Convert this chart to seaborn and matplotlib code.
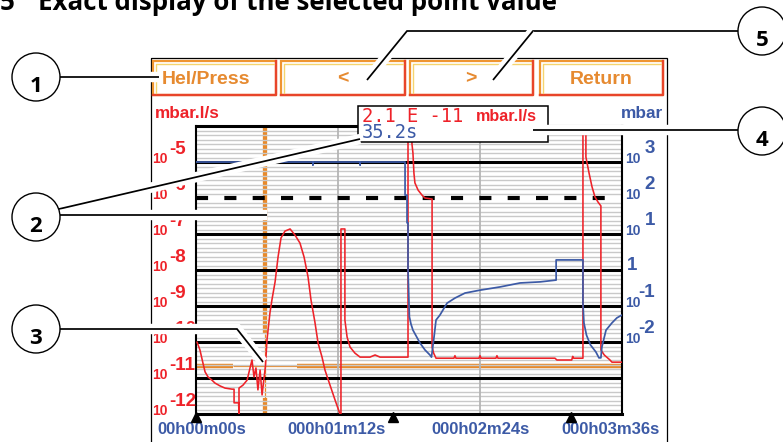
import numpy as np
import pandas as pd
import matplotlib
matplotlib.use("Agg")
import matplotlib.pyplot as plt
import matplotlib.transforms as mtransforms
from matplotlib.patches import Rectangle, Circle
from matplotlib import patheffects as pe
import seaborn as sns

sns.set_theme(style="white")
plt.rcParams["font.family"] = ["DejaVu Sans"]

# ---------------- data ----------------
title_number = "5"
title_text = "Exact display of the selected point value"
button_labels = ["Hel/Press", "<", ">", "Return"]
left_unit = "mbar.l/s"
right_unit = "mbar"
readout_value = "2.1 E -11"
readout_unit = "mbar.l/s"
readout_time = "35.2s"
cursor_time_s = 35.2
cursor_leak = 2.1e-11
x_tick_s = [0, 72, 144, 216]
x_tick_labels = ["00h00m00s", "000h01m12s", "000h02m24s", "000h03m36s"]
marker_times_s = [0, 100, 190]
left_tick_exp = [-5, -6, -7, -8, -9, -10, -11, -12]
right_tick_exp = [3, 2, 1, 0, -1, -2]
callout_labels = ["1", "2", "3", "4", "5"]

# leak rate (mbar.l/s) : (time s, log10 value)
leak_points = [
    (0.5, -10.0), (2.0, -10.22), (3.5, -10.58), (4.6, -10.83), (6.1, -10.97),
    (8.1, -11.06), (9.6, -11.14), (12.2, -11.22), (14.7, -11.28), (18.3, -11.31),
    (19.3, -11.31), (19.3, -11.69), (21.6, -11.69), (21.8, -12.0), (21.8, -11.28),
    (23.8, -11.2), (25.9, -11.06), (27.4, -10.72), (28.4, -10.5), (29.4, -10.97),
    (30.4, -10.72), (31.4, -11.33), (32.5, -10.78), (33.5, -11.47), (34.5, -11.0),
    (35.2, -10.68), (36.0, -9.94), (37.5, -9.19), (38.5, -8.83), (40.1, -8.33),
    (41.6, -7.64), (43.1, -7.11), (45.1, -6.92), (47.7, -6.86), (50.2, -7.03),
    (52.7, -7.25), (54.8, -7.64), (56.8, -8.19), (58.3, -8.83), (60.3, -9.45),
    (61.9, -10.03), (63.9, -10.42), (65.4, -10.78), (67.9, -11.19), (70.5, -11.61),
    (73.0, -12.0), (73.5, -12.0), (73.5, -6.86), (75.5, -6.86), (75.5, -9.39),
    (76.6, -9.86), (78.1, -10.14), (80.6, -10.31), (83.2, -10.42), (88.2, -10.42),
    (90.8, -10.36), (93.3, -10.42), (107.5, -10.42), (107.5, -3.5), (109.5, -3.5),
    (109.5, -4.5), (110.0, -4.75), (110.5, -5.31), (111.0, -5.58), (112.6, -5.78),
    (114.6, -5.92), (116.1, -6.0), (119.7, -6.03), (119.7, -10.14), (120.5, -10.31),
    (121.7, -10.45), (130.8, -10.45), (131.3, -10.38), (131.8, -10.45), (143.5, -10.45),
    (144.0, -10.38), (144.5, -10.45), (152.1, -10.45), (152.6, -10.38), (153.1, -10.45),
    (182.0, -10.45), (183.0, -10.5), (190.5, -10.5), (191.0, -10.4), (191.5, -10.45),
    (196.2, -10.45), (196.2, -3.5), (197.7, -3.5), (197.7, -4.86), (199.3, -5.31),
    (200.8, -5.69), (202.3, -5.97), (203.8, -6.11), (205.3, -6.22), (205.3, -10.22),
    (207.0, -10.36), (209.9, -10.5), (210.9, -10.56), (216.0, -10.56),
]

# pressure (mbar) : (time s, log10 value)
pressure_points = [
    (0.0, 3.0), (59.3, 3.0), (59.3, 2.92), (59.3, 3.0), (83.2, 3.0), (83.2, 2.92),
    (83.2, 3.0), (106.0, 3.0), (106.0, 2.08), (107.0, 2.08), (107.0, 1.31),
    (107.5, 1.31), (107.5, 0.0), (108.2, -1.3), (109.0, -1.5), (110.0, -1.67),
    (113.6, -2.03), (116.1, -2.22), (118.6, -2.36), (119.4, -2.42), (120.7, -1.86),
    (121.7, -1.39), (123.7, -1.25), (127.3, -0.92), (131.3, -0.78), (136.4, -0.64),
    (144.0, -0.56), (154.2, -0.47), (164.3, -0.36), (174.5, -0.33), (182.6, -0.28),
    (182.6, 0.28), (196.2, 0.28), (196.2, -0.92), (196.7, -1.47), (198.0, -1.81),
    (200.0, -2.08), (202.8, -2.28), (204.3, -2.44), (205.3, -2.44), (205.8, -2.14),
    (207.9, -1.67), (210.9, -1.47), (213.4, -1.33), (216.0, -1.25),
]

leak_time_s, leak_log10 = zip(*leak_points)
press_time_s, press_log10 = zip(*pressure_points)

# ---------------- styling ----------------
RED = "#ee2229"
BLUE = "#3c5aa6"
ORANGE = "#e88a2c"
GRID = "#c9c9c9"
W, H = 783, 442
PX_L, PX_R, PX_T, PX_B = 196, 622, 126, 414
LAB = "Liberation Sans"

fig = plt.figure(figsize=(W / 100, H / 100), dpi=100)
fig.patch.set_facecolor("white")

ax = fig.add_axes([PX_L / W, 1 - PX_B / H, (PX_R - PX_L) / W, (PX_B - PX_T) / H])
ax.set_facecolor("white")
ax.set_yscale("log")
ax.set_xlim(x_tick_s[0], x_tick_s[-1])
ax.set_ylim(1e-12, 1e-4)
ax2 = ax.twinx()
ax2.set_yscale("log")
ax2.set_ylim(1e-4, 1e4)

for a in (ax, ax2):
    a.tick_params(which="both", left=False, right=False, bottom=False, top=False,
                  labelleft=False, labelright=False, labelbottom=False)
    a.grid(False)

# cursor (thin near the selected point)
cx, cy = ax.transData.transform((cursor_time_s, cursor_leak))
inv = ax.transData.inverted()
gap = 32
t_lo = inv.transform((cx - gap, cy))[0]
t_hi = inv.transform((cx + gap, cy))[0]
q_lo = inv.transform((cx, cy - gap))[1]
q_hi = inv.transform((cx, cy + gap))[1]
kw = dict(color=ORANGE, zorder=1, solid_capstyle="butt")
ax.plot([0, t_lo], [cursor_leak] * 2, lw=3.2, **kw)
ax.plot([t_lo, t_hi], [cursor_leak] * 2, lw=0.9, **kw)
ax.plot([t_hi, 216], [cursor_leak] * 2, lw=3.2, **kw)
ax.plot([cursor_time_s] * 2, [1e-4, q_hi], lw=3.1, **kw)
ax.plot([cursor_time_s] * 2, [q_hi, q_lo], lw=0.9, **kw)
ax.plot([cursor_time_s] * 2, [q_lo, 1e-12], lw=3.1, **kw)

# grid
for d in range(-12, -4):
    for j in range(1, 8):
        ax.axhline(10.0 ** (d + j / 8), color=GRID, lw=1.0, zorder=2)
for t in x_tick_s[1:-1]:
    ax.axvline(t, color="#b5b5b5", lw=1.3, zorder=2)
for e in left_tick_exp[:-1]:
    if e == -6:
        ax.axhline(10.0 ** e, color="black", lw=3.0, ls=(0, (2.9, 3.9)), zorder=3)
    else:
        ax.axhline(10.0 ** e, color="black", lw=2.2, zorder=3)

for s in ("top", "bottom"):
    ax.spines[s].set_linewidth(2.2)
    ax.spines[s].set_color("black")
for s in ("left", "right"):
    ax.spines[s].set_linewidth(1.5)
    ax.spines[s].set_color("black")
for s in ax2.spines.values():
    s.set_visible(False)

# curves
leak_df = pd.DataFrame({"t": leak_time_s, "q": 10.0 ** np.array(leak_log10)})
press_df = pd.DataFrame({"t": press_time_s, "p": 10.0 ** np.array(press_log10)})
sns.lineplot(data=leak_df, x="t", y="q", ax=ax, color=RED, linewidth=1.15,
             estimator=None, sort=False, legend=False, zorder=4)
sns.lineplot(data=press_df, x="t", y="p", ax=ax2, color=BLUE, linewidth=1.25,
             estimator=None, sort=False, legend=False, zorder=4)
for a in (ax, ax2):
    a.set_xlabel("")
    a.set_ylabel("")

# start markers
blend = mtransforms.blended_transform_factory(ax.transData, ax.transAxes)
ax.plot(marker_times_s, [-0.010] * len(marker_times_s), ls="none", marker="^",
        ms=7, color="black", transform=blend, clip_on=False, zorder=5)

# x labels
x_shift = [6, -1, 1, -12]
for t, lab, dx in zip(x_tick_s, x_tick_labels, x_shift):
    ax.annotate(lab, xy=(t, 0), xycoords=("data", "axes fraction"), xytext=(dx, -16),
                textcoords="offset pixels", ha="center", va="center", color=BLUE,
                fontsize=12, fontweight="bold", family=LAB, annotation_clip=False)

# left y labels
for e in left_tick_exp:
    ax.annotate("10", xy=(0, 10.0 ** e), xycoords=("axes fraction", "data"),
                xytext=(-28, -1), textcoords="offset pixels", ha="right", va="baseline",
                color=RED, fontsize=10, fontweight="bold", family=LAB, annotation_clip=False)
    ax.annotate(str(e), xy=(0, 10.0 ** e), xycoords=("axes fraction", "data"),
                xytext=(-27, 8), textcoords="offset pixels", ha="left", va="baseline",
                color=RED, fontsize=13.5, fontweight="bold", family=LAB, annotation_clip=False)

# right y labels
for e in right_tick_exp:
    if e == 0:
        ax2.annotate("1", xy=(1, 1.0), xycoords=("axes fraction", "data"),
                     xytext=(5, 0), textcoords="offset pixels", ha="left", va="baseline",
                     color=BLUE, fontsize=13.5, fontweight="bold", family=LAB,
                     annotation_clip=False)
        continue
    ax2.annotate("10", xy=(1, 10.0 ** e), xycoords=("axes fraction", "data"),
                 xytext=(3, -1), textcoords="offset pixels", ha="left", va="baseline",
                 color=BLUE, fontsize=10, fontweight="bold", family=LAB, annotation_clip=False)
    ax2.annotate(str(e), xy=(1, 10.0 ** e), xycoords=("axes fraction", "data"),
                 xytext=(33, 9), textcoords="offset pixels", ha="right", va="baseline",
                 color=BLUE, fontsize=13.5, fontweight="bold", family=LAB,
                 annotation_clip=False)

# ---------------- overlay (pixel coordinates) ----------------
ov = fig.add_axes([0, 0, 1, 1])
ov.set_xlim(0, W)
ov.set_ylim(H, 0)
ov.axis("off")
ov.patch.set_visible(False)

# title (cut off at the top, as in the reference)
ov.text(0, 10, title_number, fontsize=18.6, fontweight="bold", family="Open Sans",
        va="baseline", ha="left", color="black")
ov.text(38, 10, title_text, fontsize=18.6, fontweight="bold", family="Open Sans",
        va="baseline", ha="left", color="black")

# screen frame
ov.add_patch(Rectangle((151, 58), 516, 420, fc="none", ec="black", lw=0.9, zorder=1))

# buttons
btn_x = [(153, 276), (281, 405), (410, 533), (540, 663)]
btn_text_x = [206, 343, 471, 601]
y0, y1 = 61, 95
for (x0, x1), lab, tx in zip(btn_x, button_labels, btn_text_x):
    ov.add_patch(Rectangle((x0, y0), x1 - x0, y1 - y0, fc="white", ec="#ef9530",
                           lw=1.6, zorder=2))
    ov.plot([x0, x1, x1], [y1, y1, y0], color="#e8452a", lw=1.7, zorder=3,
            solid_capstyle="projecting")
    ov.plot([x0 + 2.5, x0 + 2.5, x1 - 2.5], [y1 - 2.5, y0 + 2.5, y0 + 2.5],
            color="#f5d56e", lw=1.0, zorder=3)
    ov.text(tx, 79, lab, ha="center", va="center", color="#e68a30", fontsize=14,
            fontweight="bold", family=LAB, zorder=4)

# units
ov.text(155, 118, left_unit, ha="left", va="baseline", color=RED, fontsize=12.3,
        fontweight="bold", family=LAB, zorder=2)
ov.text(663, 118, right_unit, ha="right", va="baseline", color=BLUE, fontsize=12.4,
        fontweight="bold", family=LAB, zorder=2)

# readout box
ov.add_patch(Rectangle((358, 106), 190, 36, fc="white", ec="black", lw=1.1, zorder=3))
ov.text(362, 116.5, readout_value, ha="left", va="center", color=RED, fontsize=13.5,
        family="DejaVu Sans Mono", zorder=4)
ov.text(537, 116.5, readout_unit, ha="right", va="center", color=RED, fontsize=11.6,
        fontweight="bold", family=LAB, zorder=4)
ov.text(362, 132.5, readout_time, ha="left", va="center", color=BLUE, fontsize=13.5,
        family="DejaVu Sans Mono", zorder=4)

# callouts
halo = [pe.Stroke(linewidth=7.5, foreground="white"), pe.Normal()]
callout_paths = [
    [[(60, 77), (159, 77)]],
    [[(59, 209), (360, 139)], [(60, 215), (267, 215)]],
    [[(60, 329), (237, 329), (263, 362)]],
    [[(533, 130), (738, 130)]],
    [[(738, 31), (407, 31), (367, 80)], [(533, 31), (493, 80)]],
]
circle_centers = [(36, 77), (36, 217), (36, 329), (762, 131), (762, 31)]
for lab, paths, (ccx, ccy) in zip(callout_labels, callout_paths, circle_centers):
    for p in paths:
        xs, ys = zip(*p)
        ov.plot(xs, ys, color="black", lw=1.25, zorder=6, path_effects=halo,
                solid_capstyle="butt", solid_joinstyle="miter")
    ov.add_patch(Circle((ccx, ccy), 24, fc="white", ec="black", lw=1.0, zorder=7))
    ov.text(ccx, ccy + 15.5, lab, ha="center", va="baseline", fontsize=16,
            fontweight="bold", family="Open Sans", color="black", zorder=8)

fig.savefig("out.png", dpi=100, facecolor="white")
